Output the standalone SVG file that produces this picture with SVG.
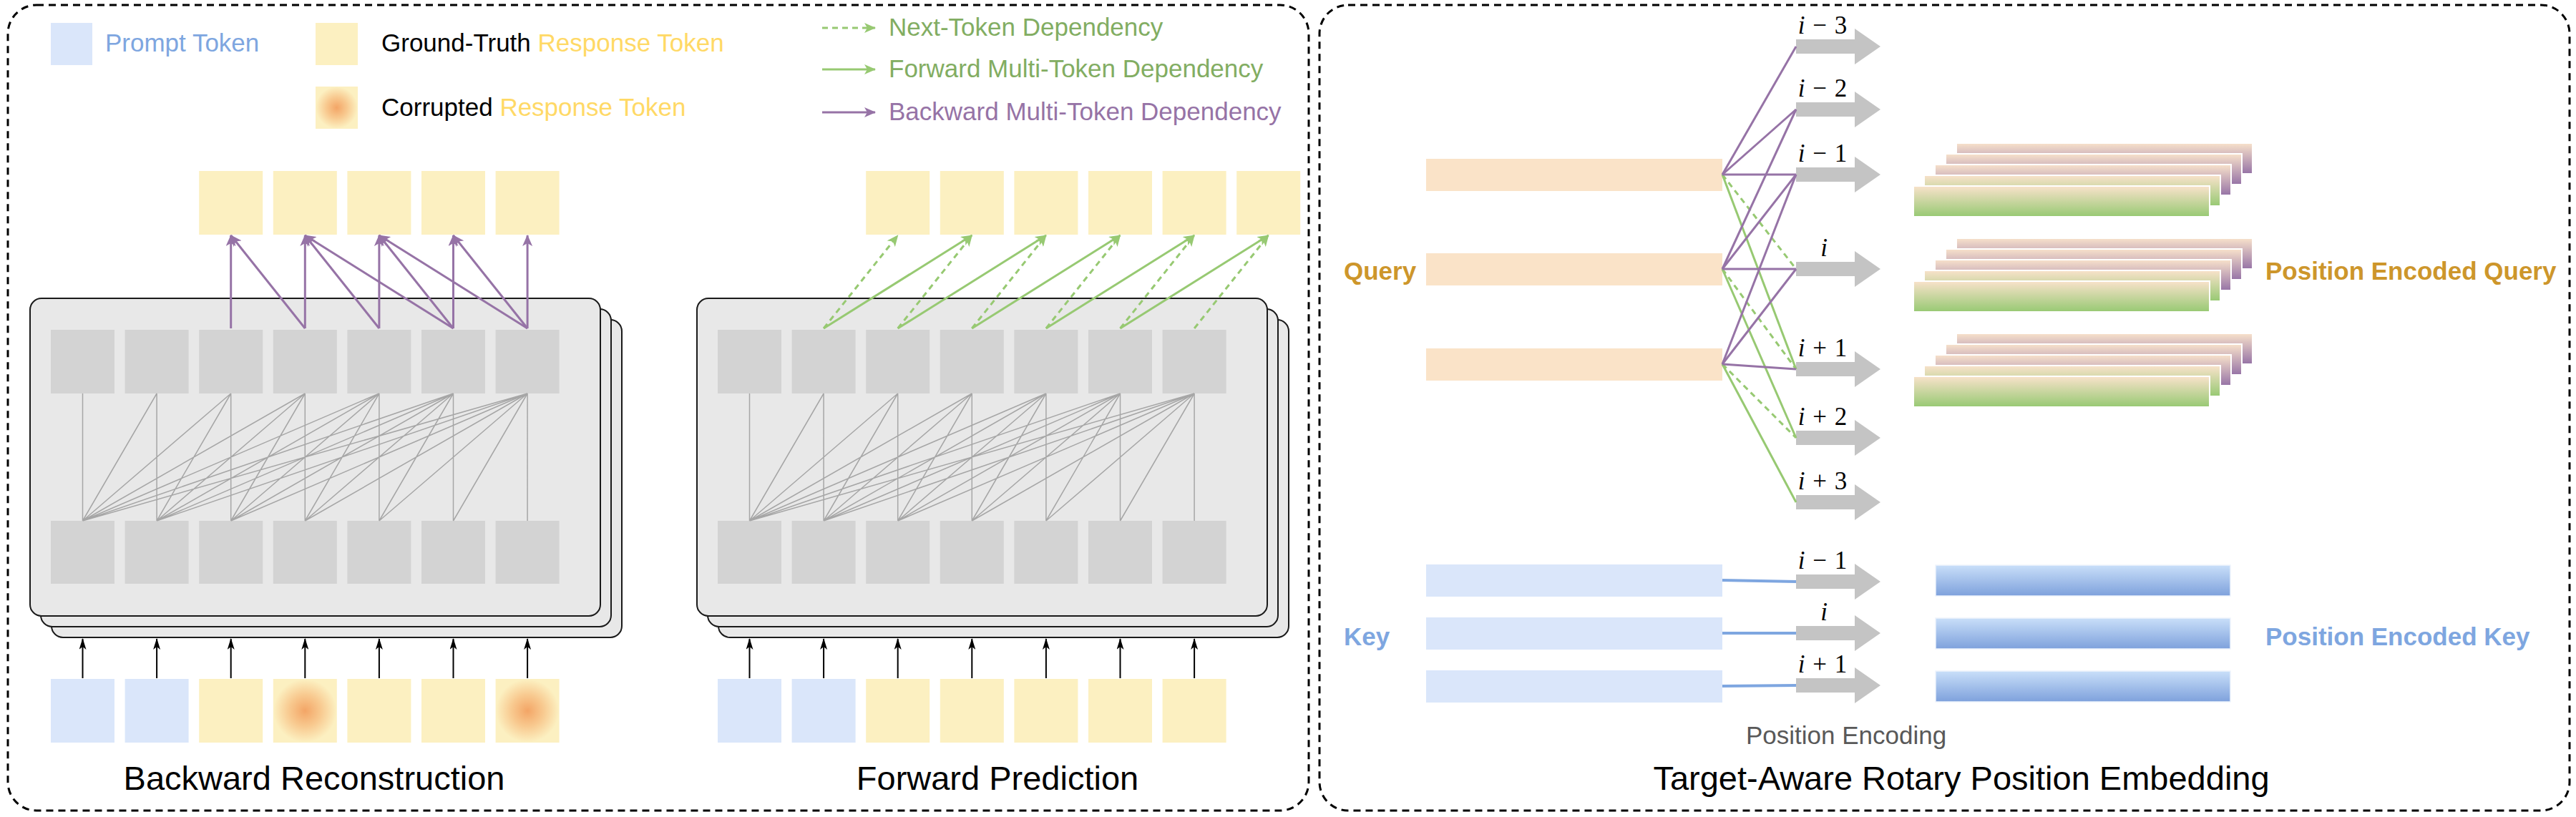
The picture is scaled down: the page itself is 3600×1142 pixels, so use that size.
<svg xmlns="http://www.w3.org/2000/svg" width="3600" height="1142" viewBox="0 0 3600 1142">
<style>
.frame{fill:none;stroke:#000;stroke-width:3;stroke-dasharray:10 7}
.txt{font-family:"Liberation Sans",Arial,sans-serif;font-size:35px}
.bold{font-family:"Liberation Sans",Arial,sans-serif;font-size:35px;font-weight:bold}
.title{font-family:"Liberation Sans",Arial,sans-serif;font-size:47px;fill:#000}
.math{font-family:"Liberation Serif","Times New Roman",serif;font-size:35px;fill:#000;word-spacing:2px}
.blue{fill:#DAE6FA}
.yel{fill:#FCF0C1}
.cor{fill:url(#corr)}
.hid{fill:#D3D3D3}
.box{fill:#E8E8E8;stroke:#1A1A1A;stroke-width:2}
.att{fill:none;stroke:#A6A6A6;stroke-width:1.5}
.pur{fill:none;stroke:#9673A6;stroke-width:3}
.grn{fill:none;stroke:#97C972;stroke-width:3}
.dash{stroke-dasharray:8 6}
.inp{fill:none;stroke:#000;stroke-width:2}
.qbar{fill:#FAE3C8}
.kbar{fill:#DAE6FA}
.pek{fill:url(#pek);stroke:#EEF4FC;stroke-width:1.5}
.peg{fill:url(#peg);stroke:#FFFFFF;stroke-width:2}
.pep{fill:url(#pep);stroke:#FFFFFF;stroke-width:2}
.blk{fill:#C4C4C4}
.kline{fill:none;stroke:#7EA6E0;stroke-width:4}
</style>
<defs>
<radialGradient id="corr" cx="50%" cy="50%" r="55%">
<stop offset="0" stop-color="#F3A566"/>
<stop offset="0.45" stop-color="#F8C98F"/>
<stop offset="0.9" stop-color="#FCF0C1"/>
</radialGradient>
<linearGradient id="peg" x1="0" y1="0" x2="0" y2="1">
<stop offset="0" stop-color="#F9E2CB"/>
<stop offset="1" stop-color="#97C973"/>
</linearGradient>
<linearGradient id="pep" x1="0" y1="0" x2="0" y2="1">
<stop offset="0" stop-color="#F8E2CB"/>
<stop offset="1" stop-color="#9673A6"/>
</linearGradient>
<linearGradient id="pek" x1="0" y1="0" x2="0" y2="1">
<stop offset="0" stop-color="#C9DFF9"/>
<stop offset="1" stop-color="#7EA1DC"/>
</linearGradient>
<marker id="ahP" viewBox="0 0 16 14" refX="15" refY="7" markerWidth="16" markerHeight="14" markerUnits="userSpaceOnUse" orient="auto"><path d="M0,0 L16,7 L0,14 L4,7 Z" fill="#9673A6"/></marker>
<marker id="ahG" viewBox="0 0 16 14" refX="15" refY="7" markerWidth="16" markerHeight="14" markerUnits="userSpaceOnUse" orient="auto"><path d="M0,0 L16,7 L0,14 L4,7 Z" fill="#97C972"/></marker>
<marker id="ahK" viewBox="0 0 16 10" refX="15" refY="5" markerWidth="16" markerHeight="10" markerUnits="userSpaceOnUse" orient="auto"><path d="M0,0 L16,5 L0,10 L4,5 Z" fill="#000"/></marker>
</defs>
<rect width="3600" height="1142" fill="#FFFFFF"/>

<g id="frame-left"><rect class="frame" x="11" y="7" width="1818" height="1126" rx="40"/></g>
<g id="frame-right"><rect class="frame" x="1844" y="7" width="1747" height="1126" rx="40"/></g>

<g id="legend">
<g id="legend-prompt"><rect class="blue" x="71" y="32" width="58" height="59"/><text class="txt" x="147" y="72" fill="#7EA6E0">Prompt Token</text></g>
<g id="legend-gt"><rect class="yel" x="441" y="32" width="59" height="59"/><text class="txt" x="533" y="72" fill="#000">Ground-Truth <tspan fill="#FFD966">Response Token</tspan></text></g>
<g id="legend-corrupted"><rect class="cor" x="441" y="121" width="59" height="59"/><text class="txt" x="533" y="162" fill="#000">Corrupted <tspan fill="#FFD966">Response Token</tspan></text></g>
<g id="legend-next"><line class="grn dash" x1="1149" y1="39" x2="1223" y2="39" marker-end="url(#ahG)"/><text class="txt" x="1242" y="50" fill="#82AD62">Next-Token Dependency</text></g>
<g id="legend-forward"><line class="grn" x1="1149" y1="97" x2="1223" y2="97" marker-end="url(#ahG)"/><text class="txt" x="1242" y="108" fill="#82AD62">Forward Multi-Token Dependency</text></g>
<g id="legend-backward"><line class="pur" x1="1149" y1="157" x2="1223" y2="157" marker-end="url(#ahP)"/><text class="txt" x="1242" y="168" fill="#9673A6">Backward Multi-Token Dependency</text></g>
</g>

<!-- Backward Reconstruction panel -->
<g id="bw-layers">
<rect class="box" x="72" y="447" width="797" height="444" rx="16"/>
<rect class="box" x="57" y="432" width="797" height="444" rx="16"/>
<rect class="box" x="42" y="417" width="797" height="444" rx="16"/>
</g>
<g id="bw-hidden-top">
<rect class="hid" x="71" y="461" width="89" height="89"/>
<rect class="hid" x="174.6" y="461" width="89" height="89"/>
<rect class="hid" x="278.2" y="461" width="89" height="89"/>
<rect class="hid" x="381.8" y="461" width="89" height="89"/>
<rect class="hid" x="485.4" y="461" width="89" height="89"/>
<rect class="hid" x="589" y="461" width="89" height="89"/>
<rect class="hid" x="692.6" y="461" width="89" height="89"/>
</g>
<g id="bw-hidden-bottom">
<rect class="hid" x="71" y="728" width="89" height="88"/>
<rect class="hid" x="174.6" y="728" width="89" height="88"/>
<rect class="hid" x="278.2" y="728" width="89" height="88"/>
<rect class="hid" x="381.8" y="728" width="89" height="88"/>
<rect class="hid" x="485.4" y="728" width="89" height="88"/>
<rect class="hid" x="589" y="728" width="89" height="88"/>
<rect class="hid" x="692.6" y="728" width="89" height="88"/>
</g>
<g id="bw-outputs">
<rect class="yel" x="278.2" y="239" width="89" height="89"/>
<rect class="yel" x="381.8" y="239" width="89" height="89"/>
<rect class="yel" x="485.4" y="239" width="89" height="89"/>
<rect class="yel" x="589" y="239" width="89" height="89"/>
<rect class="yel" x="692.6" y="239" width="89" height="89"/>
</g>
<g id="bw-inputs">
<rect class="blue" x="71" y="949" width="89" height="89"/>
<rect class="blue" x="174.6" y="949" width="89" height="89"/>
<rect class="yel" x="278.2" y="949" width="89" height="89"/>
<rect class="cor" x="381.8" y="949" width="89" height="89"/>
<rect class="yel" x="485.4" y="949" width="89" height="89"/>
<rect class="yel" x="589" y="949" width="89" height="89"/>
<rect class="cor" x="692.6" y="949" width="89" height="89"/>
</g>
<g id="bw-title"><text class="title" x="439" y="1104" text-anchor="middle">Backward Reconstruction</text></g>

<!-- Forward Prediction panel -->
<g id="fw-layers">
<rect class="box" x="1004" y="447" width="797" height="444" rx="16"/>
<rect class="box" x="989" y="432" width="797" height="444" rx="16"/>
<rect class="box" x="974" y="417" width="797" height="444" rx="16"/>
</g>
<g id="fw-hidden-top">
<rect class="hid" x="1003" y="461" width="89" height="89"/>
<rect class="hid" x="1106.6" y="461" width="89" height="89"/>
<rect class="hid" x="1210.2" y="461" width="89" height="89"/>
<rect class="hid" x="1313.8" y="461" width="89" height="89"/>
<rect class="hid" x="1417.4" y="461" width="89" height="89"/>
<rect class="hid" x="1521" y="461" width="89" height="89"/>
<rect class="hid" x="1624.6" y="461" width="89" height="89"/>
</g>
<g id="fw-hidden-bottom">
<rect class="hid" x="1003" y="728" width="89" height="88"/>
<rect class="hid" x="1106.6" y="728" width="89" height="88"/>
<rect class="hid" x="1210.2" y="728" width="89" height="88"/>
<rect class="hid" x="1313.8" y="728" width="89" height="88"/>
<rect class="hid" x="1417.4" y="728" width="89" height="88"/>
<rect class="hid" x="1521" y="728" width="89" height="88"/>
<rect class="hid" x="1624.6" y="728" width="89" height="88"/>
</g>
<g id="fw-outputs">
<rect class="yel" x="1210.2" y="239" width="89" height="89"/>
<rect class="yel" x="1313.8" y="239" width="89" height="89"/>
<rect class="yel" x="1417.4" y="239" width="89" height="89"/>
<rect class="yel" x="1521" y="239" width="89" height="89"/>
<rect class="yel" x="1624.6" y="239" width="89" height="89"/>
<rect class="yel" x="1728.2" y="239" width="89" height="89"/>
</g>
<g id="fw-inputs">
<rect class="blue" x="1003" y="949" width="89" height="89"/>
<rect class="blue" x="1106.6" y="949" width="89" height="89"/>
<rect class="yel" x="1210.2" y="949" width="89" height="89"/>
<rect class="yel" x="1313.8" y="949" width="89" height="89"/>
<rect class="yel" x="1417.4" y="949" width="89" height="89"/>
<rect class="yel" x="1521" y="949" width="89" height="89"/>
<rect class="yel" x="1624.6" y="949" width="89" height="89"/>
</g>
<g id="fw-title"><text class="title" x="1394" y="1104" text-anchor="middle">Forward Prediction</text></g>

<!-- Target-Aware RoPE panel -->
<g id="query">
<text class="bold" x="1878" y="391" fill="#CD962B">Query</text>
<rect class="qbar" x="1993" y="222" width="414" height="45"/>
<rect class="qbar" x="1993" y="354" width="414" height="45"/>
<rect class="qbar" x="1993" y="487" width="414" height="45"/>
</g>
<g id="key">
<text class="bold" x="1878" y="902" fill="#7EA6E0">Key</text>
<rect class="kbar" x="1993" y="789" width="414" height="45"/>
<rect class="kbar" x="1993" y="863" width="414" height="45"/>
<rect class="kbar" x="1993" y="937" width="414" height="45"/>
</g>
<g id="pos-arrows-query">
<path class="blk" d="M2510,55 H2592 V40 L2628,65 L2592,90 V75 H2510 Z"/>
<path class="blk" d="M2510,143 H2592 V128 L2628,153 L2592,178 V163 H2510 Z"/>
<path class="blk" d="M2510,234 H2592 V219 L2628,244 L2592,269 V254 H2510 Z"/>
<path class="blk" d="M2510,366 H2592 V351 L2628,376 L2592,401 V386 H2510 Z"/>
<path class="blk" d="M2510,506 H2592 V491 L2628,516 L2592,541 V526 H2510 Z"/>
<path class="blk" d="M2510,602 H2592 V587 L2628,612 L2592,637 V622 H2510 Z"/>
<path class="blk" d="M2510,692 H2592 V677 L2628,702 L2592,727 V712 H2510 Z"/>
<text class="math" x="2547" y="47" text-anchor="middle"><tspan font-style="italic">i</tspan> − 3</text>
<text class="math" x="2547" y="135" text-anchor="middle"><tspan font-style="italic">i</tspan> − 2</text>
<text class="math" x="2547" y="226" text-anchor="middle"><tspan font-style="italic">i</tspan> − 1</text>
<text class="math" x="2549" y="358" text-anchor="middle" font-style="italic">i</text>
<text class="math" x="2547" y="498" text-anchor="middle"><tspan font-style="italic">i</tspan> + 1</text>
<text class="math" x="2547" y="594" text-anchor="middle"><tspan font-style="italic">i</tspan> + 2</text>
<text class="math" x="2547" y="684" text-anchor="middle"><tspan font-style="italic">i</tspan> + 3</text>
</g>
<g id="pos-arrows-key">
<path class="blk" d="M2510,803 H2592 V788 L2628,813 L2592,838 V823 H2510 Z"/>
<path class="blk" d="M2510,875 H2592 V860 L2628,885 L2592,910 V895 H2510 Z"/>
<path class="blk" d="M2510,948 H2592 V933 L2628,958 L2592,983 V968 H2510 Z"/>
<text class="math" x="2547" y="795" text-anchor="middle"><tspan font-style="italic">i</tspan> − 1</text>
<text class="math" x="2549" y="867" text-anchor="middle" font-style="italic">i</text>
<text class="math" x="2547" y="940" text-anchor="middle"><tspan font-style="italic">i</tspan> + 1</text>
<text class="txt" x="2440" y="1040" fill="#595959">Position Encoding</text>
</g>
<g id="pe-query-1">
<rect class="pep" x="2734" y="200" width="414" height="43"/>
<rect class="pep" x="2719" y="215" width="414" height="43"/>
<rect class="pep" x="2704" y="230" width="414" height="43"/>
<rect class="peg" x="2689" y="245" width="414" height="43"/>
<rect class="peg" x="2674" y="260" width="414" height="43"/>
</g>
<g id="pe-query-2">
<rect class="pep" x="2734" y="333" width="414" height="43"/>
<rect class="pep" x="2719" y="348" width="414" height="43"/>
<rect class="pep" x="2704" y="363" width="414" height="43"/>
<rect class="peg" x="2689" y="378" width="414" height="43"/>
<rect class="peg" x="2674" y="393" width="414" height="43"/>
</g>
<g id="pe-query-3">
<rect class="pep" x="2734" y="466" width="414" height="43"/>
<rect class="pep" x="2719" y="481" width="414" height="43"/>
<rect class="pep" x="2704" y="496" width="414" height="43"/>
<rect class="peg" x="2689" y="511" width="414" height="43"/>
<rect class="peg" x="2674" y="526" width="414" height="43"/>
</g>
<g id="pe-query-label"><text class="bold" x="3166" y="391" fill="#CD962B">Position Encoded Query</text></g>
<g id="pe-key">
<rect class="pek" x="2705" y="790" width="412" height="43"/>
<rect class="pek" x="2705" y="864" width="412" height="43"/>
<rect class="pek" x="2705" y="938" width="412" height="43"/>
<text class="bold" x="3166" y="902" fill="#7EA6E0">Position Encoded Key</text>
</g>
<g id="rope-title"><text class="title" x="2741" y="1104" text-anchor="middle">Target-Aware Rotary Position Embedding</text></g>

<g id="connectors">
<path class="att" d="M115.5,550 L115.5,728 M219.1,550 L115.5,728 M219.1,550 L219.1,728 M322.7,550 L115.5,728 M322.7,550 L219.1,728 M322.7,550 L322.7,728 M426.3,550 L115.5,728 M426.3,550 L219.1,728 M426.3,550 L322.7,728 M426.3,550 L426.3,728 M529.9,550 L115.5,728 M529.9,550 L219.1,728 M529.9,550 L322.7,728 M529.9,550 L426.3,728 M529.9,550 L529.9,728 M633.5,550 L115.5,728 M633.5,550 L219.1,728 M633.5,550 L322.7,728 M633.5,550 L426.3,728 M633.5,550 L529.9,728 M633.5,550 L633.5,728 M737.1,550 L115.5,728 M737.1,550 L219.1,728 M737.1,550 L322.7,728 M737.1,550 L426.3,728 M737.1,550 L529.9,728 M737.1,550 L633.5,728 M737.1,550 L737.1,728"/>
<path class="att" d="M1047.5,550 L1047.5,728 M1151.1,550 L1047.5,728 M1151.1,550 L1151.1,728 M1254.7,550 L1047.5,728 M1254.7,550 L1151.1,728 M1254.7,550 L1254.7,728 M1358.3,550 L1047.5,728 M1358.3,550 L1151.1,728 M1358.3,550 L1254.7,728 M1358.3,550 L1358.3,728 M1461.9,550 L1047.5,728 M1461.9,550 L1151.1,728 M1461.9,550 L1254.7,728 M1461.9,550 L1358.3,728 M1461.9,550 L1461.9,728 M1565.5,550 L1047.5,728 M1565.5,550 L1151.1,728 M1565.5,550 L1254.7,728 M1565.5,550 L1358.3,728 M1565.5,550 L1461.9,728 M1565.5,550 L1565.5,728 M1669.1,550 L1047.5,728 M1669.1,550 L1151.1,728 M1669.1,550 L1254.7,728 M1669.1,550 L1358.3,728 M1669.1,550 L1461.9,728 M1669.1,550 L1565.5,728 M1669.1,550 L1669.1,728"/>
<line class="pur" x1="322.7" y1="459" x2="322.7" y2="329" marker-end="url(#ahP)"/>
<line class="pur" x1="426.3" y1="459" x2="322.7" y2="329" marker-end="url(#ahP)"/>
<line class="pur" x1="426.3" y1="459" x2="426.3" y2="329" marker-end="url(#ahP)"/>
<line class="pur" x1="529.9" y1="459" x2="426.3" y2="329" marker-end="url(#ahP)"/>
<line class="pur" x1="529.9" y1="459" x2="529.9" y2="329" marker-end="url(#ahP)"/>
<line class="pur" x1="633.5" y1="459" x2="426.3" y2="329" marker-end="url(#ahP)"/>
<line class="pur" x1="633.5" y1="459" x2="529.9" y2="329" marker-end="url(#ahP)"/>
<line class="pur" x1="633.5" y1="459" x2="633.5" y2="329" marker-end="url(#ahP)"/>
<line class="pur" x1="737.1" y1="459" x2="529.9" y2="329" marker-end="url(#ahP)"/>
<line class="pur" x1="737.1" y1="459" x2="633.5" y2="329" marker-end="url(#ahP)"/>
<line class="pur" x1="737.1" y1="459" x2="737.1" y2="329" marker-end="url(#ahP)"/>
<line class="grn dash" x1="1151.1" y1="459" x2="1254.7" y2="329" marker-end="url(#ahG)"/>
<line class="grn dash" x1="1254.7" y1="459" x2="1358.3" y2="329" marker-end="url(#ahG)"/>
<line class="grn dash" x1="1358.3" y1="459" x2="1461.9" y2="329" marker-end="url(#ahG)"/>
<line class="grn dash" x1="1461.9" y1="459" x2="1565.5" y2="329" marker-end="url(#ahG)"/>
<line class="grn dash" x1="1565.5" y1="459" x2="1669.1" y2="329" marker-end="url(#ahG)"/>
<line class="grn dash" x1="1669.1" y1="459" x2="1772.7" y2="329" marker-end="url(#ahG)"/>
<line class="grn" x1="1151.1" y1="459" x2="1358.3" y2="329" marker-end="url(#ahG)"/>
<line class="grn" x1="1254.7" y1="459" x2="1461.9" y2="329" marker-end="url(#ahG)"/>
<line class="grn" x1="1358.3" y1="459" x2="1565.5" y2="329" marker-end="url(#ahG)"/>
<line class="grn" x1="1461.9" y1="459" x2="1669.1" y2="329" marker-end="url(#ahG)"/>
<line class="grn" x1="1565.5" y1="459" x2="1772.7" y2="329" marker-end="url(#ahG)"/>
<line class="inp" x1="115.5" y1="948" x2="115.5" y2="893" marker-end="url(#ahK)"/>
<line class="inp" x1="219.1" y1="948" x2="219.1" y2="893" marker-end="url(#ahK)"/>
<line class="inp" x1="322.7" y1="948" x2="322.7" y2="893" marker-end="url(#ahK)"/>
<line class="inp" x1="426.3" y1="948" x2="426.3" y2="893" marker-end="url(#ahK)"/>
<line class="inp" x1="529.9" y1="948" x2="529.9" y2="893" marker-end="url(#ahK)"/>
<line class="inp" x1="633.5" y1="948" x2="633.5" y2="893" marker-end="url(#ahK)"/>
<line class="inp" x1="737.1" y1="948" x2="737.1" y2="893" marker-end="url(#ahK)"/>
<line class="inp" x1="1047.5" y1="948" x2="1047.5" y2="893" marker-end="url(#ahK)"/>
<line class="inp" x1="1151.1" y1="948" x2="1151.1" y2="893" marker-end="url(#ahK)"/>
<line class="inp" x1="1254.7" y1="948" x2="1254.7" y2="893" marker-end="url(#ahK)"/>
<line class="inp" x1="1358.3" y1="948" x2="1358.3" y2="893" marker-end="url(#ahK)"/>
<line class="inp" x1="1461.9" y1="948" x2="1461.9" y2="893" marker-end="url(#ahK)"/>
<line class="inp" x1="1565.5" y1="948" x2="1565.5" y2="893" marker-end="url(#ahK)"/>
<line class="inp" x1="1669.1" y1="948" x2="1669.1" y2="893" marker-end="url(#ahK)"/>
<line class="grn" x1="2407" y1="244" x2="2510" y2="516"/>
<line class="grn" x1="2407" y1="376" x2="2510" y2="612"/>
<line class="grn" x1="2407" y1="509" x2="2510" y2="702"/>
<line class="grn dash" x1="2407" y1="244" x2="2510" y2="376"/>
<line class="grn dash" x1="2407" y1="376" x2="2510" y2="516"/>
<line class="grn dash" x1="2407" y1="509" x2="2510" y2="612"/>
<line class="pur" x1="2407" y1="244" x2="2510" y2="65"/>
<line class="pur" x1="2407" y1="244" x2="2510" y2="153"/>
<line class="pur" x1="2407" y1="244" x2="2510" y2="244"/>
<line class="pur" x1="2407" y1="376" x2="2510" y2="153"/>
<line class="pur" x1="2407" y1="376" x2="2510" y2="244"/>
<line class="pur" x1="2407" y1="376" x2="2510" y2="376"/>
<line class="pur" x1="2407" y1="509" x2="2510" y2="244"/>
<line class="pur" x1="2407" y1="509" x2="2510" y2="376"/>
<line class="pur" x1="2407" y1="509" x2="2510" y2="516"/>
<line class="kline" x1="2407" y1="811" x2="2510" y2="813"/>
<line class="kline" x1="2407" y1="885" x2="2510" y2="885"/>
<line class="kline" x1="2407" y1="959" x2="2510" y2="958"/>
</g>
</svg>
